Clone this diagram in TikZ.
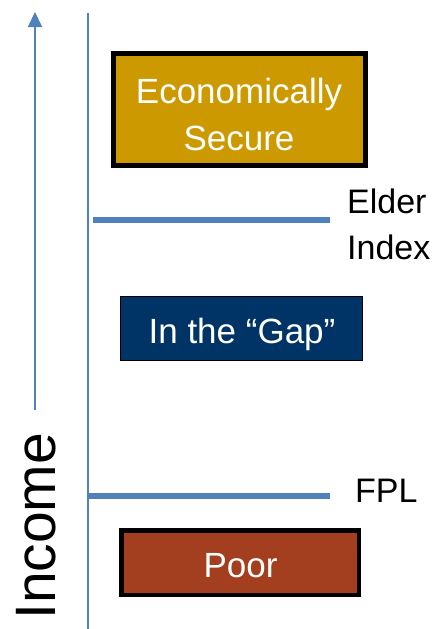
\documentclass[tikz,border=0pt]{standalone}
\usepackage{fontspec}
\setmainfont{Liberation Sans}
\usetikzlibrary{arrows.meta}
\definecolor{axisblue}{HTML}{4F81BD}
\definecolor{securegold}{HTML}{CC9900}
\definecolor{gapnavy}{HTML}{003366}
\definecolor{poorrust}{HTML}{A33F1F}
\tikzset{
  band/.style={draw=black, inner sep=0pt},
  bandtext/.style={anchor=base, text=white, align=center, inner sep=0pt,
    font=\fontsize{35}{47}\selectfont},
  level/.style={draw=axisblue, line width=6pt},
  levellabel/.style={anchor=base west, align=left, inner sep=0pt,
    font=\fontsize{34}{46}\selectfont},
}
\begin{document}
\begin{tikzpicture}[x=1pt, y=-1pt]
  \useasboundingbox (0,0) rectangle (435,629);

  % income arrow and axis
  \coordinate (arrowfoot) at (35,410);
  \coordinate (arrowtip) at (35,12);
  \draw[axisblue, line width=2pt, -{Triangle[width=14pt,length=15pt]}] (arrowfoot) -- (arrowtip);
  \coordinate (axistop) at (88,13);
  \coordinate (axisbottom) at (88,629);
  \draw[axisblue, line width=1.5pt] (axistop) -- (axisbottom);
  \node[rotate=90, anchor=base west, inner sep=0pt, font=\fontsize{57}{60}\selectfont] (income) at (55,620) {Income};

  % income bands
  \node[band, fill=securegold, line width=5pt, minimum width=252pt, minimum height=112pt] (secure) at (239.5,109.5) {};
  \node[bandtext] (securetext) at (239,150) {Economically\\Secure};
  \node[band, fill=gapnavy, line width=1.2pt, minimum width=242pt, minimum height=64pt] (gap) at (241.5,328.5) {};
  \node[bandtext] (gaptext) at (242,343) {In the “Gap”};
  \node[band, fill=poorrust, line width=4.5pt, minimum width=237.5pt, minimum height=64.5pt] (poor) at (240,562.5) {};
  \node[bandtext] (poortext) at (240.5,577) {Poor};

  % thresholds
  \coordinate (elderL) at (93,220);
  \coordinate (elderR) at (330,220);
  \draw[level] (elderL) -- (elderR);
  \node[levellabel] (elder) at (347,259) {Elder\\Index};
  \coordinate (fplL) at (89,496);
  \coordinate (fplR) at (330,496);
  \draw[level] (fplL) -- (fplR);
  \node[levellabel] (fpl) at (355,502) {FPL};
\end{tikzpicture}
\end{document}
